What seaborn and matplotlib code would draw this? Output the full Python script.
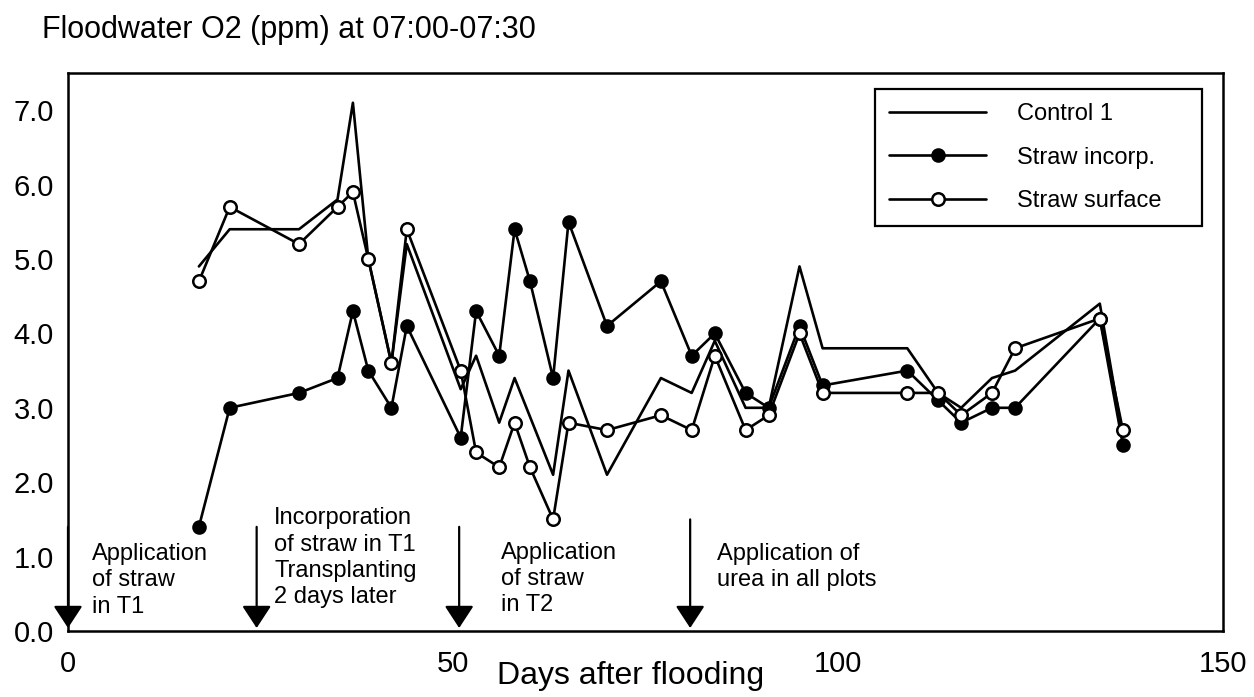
import numpy as np
import pandas as pd
import matplotlib
matplotlib.use("Agg")
import matplotlib.pyplot as plt
import seaborn as sns
from matplotlib.ticker import MultipleLocator, FixedLocator, FormatStrFormatter

# ---------------- data ----------------
title = "Floodwater O2 (ppm) at 07:00-07:30"
x_label = "Days after flooding"
series_names = ["Control 1", "Straw incorp.", "Straw surface"]

control_days = [17, 21, 30, 35, 37, 39, 42, 44, 51, 53, 56, 58, 63, 65, 70, 77,
                81, 84, 88, 91, 95, 98, 109, 113, 116, 120, 123, 134, 137]
control_o2 = [4.9, 5.4, 5.4, 5.8, 7.1, 5.0, 3.6, 5.2, 3.25, 3.7, 2.8, 3.4, 2.1, 3.5, 2.1, 3.4,
              3.2, 3.9, 3.0, 3.0, 4.9, 3.8, 3.8, 3.2, 3.0, 3.4, 3.5, 4.4, 2.6]

straw_days = [17, 21, 30, 35, 37, 39, 42, 44, 51, 53, 56, 58, 60, 63, 65, 70, 77,
              81, 84, 88, 91, 95, 98, 109, 113, 116, 120, 123, 134, 137]
incorp_o2 = [1.4, 3.0, 3.2, 3.4, 4.3, 3.5, 3.0, 4.1, 2.6, 4.3, 3.7, 5.4, 4.7, 3.4, 5.5, 4.1, 4.7,
             3.7, 4.0, 3.2, 3.0, 4.1, 3.3, 3.5, 3.1, 2.8, 3.0, 3.0, 4.2, 2.5]
surface_o2 = [4.7, 5.7, 5.2, 5.7, 5.9, 5.0, 3.6, 5.4, 3.5, 2.4, 2.2, 2.8, 2.2, 1.5, 2.8, 2.7, 2.9,
              2.7, 3.7, 2.7, 2.9, 4.0, 3.2, 3.2, 3.2, 2.9, 3.2, 3.8, 4.2, 2.7]

event_days = [0, 24.5, 50.8, 80.8]
event_texts = ["Application\nof straw\nin T1",
               "Incorporation\nof straw in T1\nTransplanting\n2 days later",
               "Application\nof straw\nin T2",
               "Application of\nurea in all plots"]

x_tick_values = [0, 50, 100, 150]
y_tick_values = [0, 1, 2, 3, 4, 5, 6, 7]

# ---------------- style ----------------
sns.set_style("white")
plt.rcParams["font.family"] = ["Liberation Sans", "DejaVu Sans"]
plt.rcParams["text.color"] = "black"
plt.rcParams["axes.labelcolor"] = "black"
plt.rcParams["xtick.color"] = "black"
plt.rcParams["ytick.color"] = "black"

fig = plt.figure(figsize=(12.54, 6.97), dpi=100)
ax = fig.add_axes([68 / 1254, 1 - 631 / 697, (1223 - 68) / 1254, (631 - 73) / 697])

ctrl = pd.DataFrame({"day": control_days, "o2": control_o2})
straw = pd.DataFrame({"day": straw_days, "incorp": incorp_o2, "surface": surface_o2})

lw = 1.9
sns.lineplot(data=ctrl, x="day", y="o2", color="black", lw=lw, label=series_names[0], ax=ax)
sns.lineplot(data=straw, x="day", y="incorp", color="black", lw=lw, marker="o",
             markersize=9, markerfacecolor="black", markeredgecolor="black",
             markeredgewidth=1.5, label=series_names[1], ax=ax)
sns.lineplot(data=straw, x="day", y="surface", color="black", lw=lw, marker="o",
             markersize=9, markerfacecolor="white", markeredgecolor="black",
             markeredgewidth=1.8, label=series_names[2], ax=ax)

ax.set_xlim(0, 150)
ax.set_ylim(0, 7.5)

ax.xaxis.set_major_locator(FixedLocator(x_tick_values))
ax.xaxis.set_minor_locator(MultipleLocator(10))
ax.yaxis.set_major_locator(FixedLocator(y_tick_values))
ax.yaxis.set_minor_locator(MultipleLocator(0.5))
ax.yaxis.set_major_formatter(FormatStrFormatter("%.1f"))

ax.tick_params(axis="both", which="both", direction="in", colors="black",
               labelcolor="black")
ax.tick_params(axis="y", which="major", length=9, width=1.6, labelsize=21, pad=10)
ax.tick_params(axis="y", which="minor", length=5, width=1.3)
ax.tick_params(axis="x", which="major", length=6, width=1.6, labelsize=21, pad=14)
ax.tick_params(axis="x", which="minor", length=4, width=1.2)

for sp in ax.spines.values():
    sp.set_visible(True)
    sp.set_color("black")
    sp.set_linewidth(1.8)

ax.set_ylabel("")
ax.set_xlabel(x_label, fontsize=23, color="black")
ax.xaxis.set_label_coords(0.487, -0.054)

fig.text(42 / 1254, 1 - 30 / 697, title, fontsize=22, ha="left", va="center",
         color="black")

# event arrows and labels
arrow_tops = [1.4, 1.4, 1.4, 1.5]
text_pos = [(3.1, 1.18), (26.8, 1.66), (56.2, 1.2), (84.3, 1.18)]
for d, top, txt, (tx, ty) in zip(event_days, arrow_tops, event_texts, text_pos):
    ax.annotate("", xy=(d, 0.04), xytext=(d, top),
                arrowprops=dict(arrowstyle="-|>,head_length=0.55,head_width=0.36",
                                color="black", lw=1.6, shrinkA=0, shrinkB=0,
                                mutation_scale=25),
                annotation_clip=False)
    ax.text(tx, ty, txt, fontsize=17, ha="left", va="top", linespacing=1.25,
            color="black")

leg = ax.legend(loc="upper left", bbox_to_anchor=(0.6987, 0.5, 0.2831, 0.471),
                mode="expand", borderaxespad=0,
                fontsize=17, frameon=True, fancybox=False, framealpha=1,
                edgecolor="black", handlelength=4.1, handletextpad=1.3,
                labelspacing=0.9, borderpad=0.6)
leg.get_frame().set_linewidth(1.6)
for t in leg.get_texts():
    t.set_color("black")

fig.savefig("out.png", dpi=100)
